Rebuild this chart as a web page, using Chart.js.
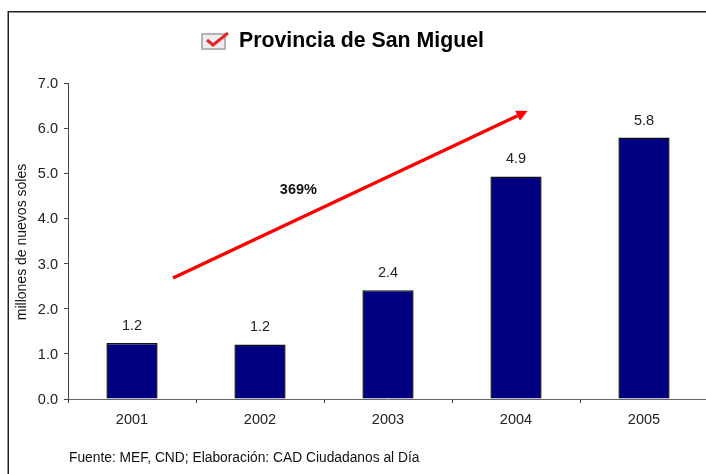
<!DOCTYPE html>
<html><head><meta charset="utf-8">
<style>
html,body{margin:0;padding:0;background:#fff;overflow:hidden;width:706px;height:474px}
#wrap{position:relative;width:720px;height:474px}
canvas{display:block}
</style>
<script src="https://cdn.jsdelivr.net/npm/chart.js@4"></script>
</head><body><div id="wrap"><canvas id="c" width="720" height="474"></canvas></div>
<script>
const categories = ['2001','2002','2003','2004','2005'];
const values = [1.24, 1.21, 2.41, 4.93, 5.79];
const valueLabels = ['1.2','1.2','2.4','4.9','5.8'];
const titleText = 'Provincia de San Miguel';
const yTitle = 'millones de nuevos soles';
const sourceText = 'Fuente: MEF, CND; Elaboración: CAD Ciudadanos al Día';
const growthText = '369%';
const arrowFrom = [0.32, 2.68];
const arrowTo = [3.09, 6.38];
const growthAt = [1.3, 4.54];
const font = '"Liberation Sans", Arial, sans-serif';

const decor = {
  id:'decor',
  afterDatasetsDraw(chart){
    const {ctx, scales:{x,y}} = chart;
    ctx.save();
    ctx.fillStyle='#222'; ctx.font='14.5px '+font; ctx.textAlign='center'; ctx.textBaseline='alphabetic';
    const meta = chart.getDatasetMeta(0);
    meta.data.forEach((b,i)=>ctx.fillText(valueLabels[i], b.x, b.y-13));
    const x0=x.getPixelForValue(arrowFrom[0]), y0=y.getPixelForValue(arrowFrom[1]);
    const x1=x.getPixelForValue(arrowTo[0]), y1=y.getPixelForValue(arrowTo[1]);
    const a=Math.atan2(y1-y0,x1-x0), L=11, W=5.5;
    const bx=x1-L*Math.cos(a), by=y1-L*Math.sin(a);
    ctx.strokeStyle='#ff0000'; ctx.lineWidth=3.4;
    ctx.beginPath(); ctx.moveTo(x0,y0); ctx.lineTo(bx,by); ctx.stroke();
    ctx.fillStyle='#ff0000'; ctx.beginPath(); ctx.moveTo(x1,y1);
    ctx.lineTo(bx-W*Math.sin(a),by+W*Math.cos(a));
    ctx.lineTo(bx+W*Math.sin(a),by-W*Math.cos(a)); ctx.closePath(); ctx.fill();
    ctx.fillStyle='#111'; ctx.font='bold 14.5px '+font; ctx.textAlign='center';
    ctx.fillText(growthText, x.getPixelForValue(growthAt[0]), y.getPixelForValue(growthAt[1]));
    ctx.strokeStyle='#222'; ctx.lineWidth=1.5;
    ctx.beginPath(); ctx.moveTo(8.25,474); ctx.lineTo(8.25,11.75); ctx.lineTo(720,11.75); ctx.stroke();
    ctx.fillStyle='#000'; ctx.font='bold 21.3px '+font; ctx.textAlign='left';
    ctx.fillText(titleText, 239, 47);
    ctx.fillStyle='#eee'; ctx.strokeStyle='#b5b5b5'; ctx.lineWidth=2;
    ctx.fillRect(202,34,23,15); ctx.strokeRect(202,34,23,15);
    ctx.strokeStyle='#e8262a'; ctx.lineWidth=3; ctx.lineJoin='miter';
    ctx.beginPath(); ctx.moveTo(207,40); ctx.lineTo(213,45); ctx.lineTo(228,33); ctx.stroke();
    ctx.fillStyle='#111'; ctx.font='13.8px '+font; ctx.textAlign='left';
    ctx.fillText(sourceText, 69, 462);
    ctx.translate(26,242); ctx.rotate(-Math.PI/2);
    ctx.fillStyle='#111'; ctx.font='14px '+font; ctx.textAlign='center';
    ctx.fillText(yTitle, 0, 0);
    ctx.restore();
  }
};

new Chart(document.getElementById('c'),{
  type:'bar',
  data:{labels:categories,datasets:[{data:values,backgroundColor:'#000080',borderColor:'#111',borderWidth:1.5,barPercentage:0.4,categoryPercentage:1}]},
  plugins:[decor],
  options:{
    responsive:false,animation:false,
    layout:{padding:{top:83,right:12}},
    plugins:{legend:{display:false},tooltip:{enabled:false},title:{display:false}},
    scales:{
      x:{type:'category',grid:{drawOnChartArea:false,drawTicks:true,tickLength:4,tickColor:'#444'},border:{color:'#666'},
         afterFit(s){s.height=75},
         ticks:{color:'#222',font:{family:font,size:14.5},padding:8,maxRotation:0}},
      y:{min:0,max:7,grid:{drawOnChartArea:false,drawTicks:true,tickLength:4,tickColor:'#444'},border:{color:'#444'},
         afterFit(s){s.width=68},
         ticks:{stepSize:1,color:'#222',font:{family:font,size:14.5},padding:6,labelOffset:1,callback:v=>v.toFixed(1)}}
    }
  }
});
</script></body></html>
